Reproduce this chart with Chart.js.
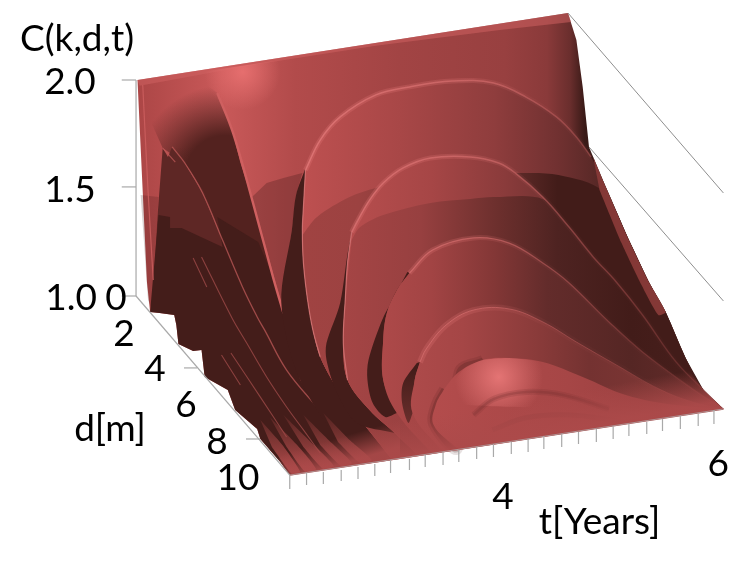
<!DOCTYPE html>
<html>
<head>
<meta charset="utf-8">
<title>C(k,d,t)</title>
<style>
html, body { margin: 0; padding: 0; background: #fff; }
#box { width: 753px; height: 564px; }
</style>
<script src="https://cdn.jsdelivr.net/npm/chart.js@4/dist/chart.umd.min.js"></script>
</head>
<body>
<div id="box"><canvas id="chart" width="753" height="564"></canvas></div>
<script>
// The surface is a 3D view, so every outline below is read off the picture as
// [apparent t, apparent C]: t along the front edge, C up the vertical axis.

// tick labels: text, apparent t, apparent C
var cLabels = [["2.0", -0.143, 1.935], ["1.5", -0.143, 1.435], ["1.0", -0.133, 0.935]];
var dLabels = [["0", 0.295, 0.935], ["2", 0.371, 0.769], ["4", 0.667, 0.606], ["6", 0.962, 0.44], ["8", 1.257, 0.269], ["10", 1.457, 0.102]];
var tLabels = [["4", 3.98, 0.014], ["6", 6.03, 0.167]];
var axisTitles = [["C(k,d,t)", -0.076, 2.134], ["d[m]", 0.238, 0.329], ["t[Years]", 4.9, -0.102]];

// axis frame
var cTicks = [2, 1.505, 1];
var dTicks = [[0.943, 1.067, 0.667], [1.533, 1.667, 0.338]];
var frontTickT = [1.95, 2.11, 2.27, 2.44, 2.6, 2.76, 2.91, 3.09, 3.24, 3.41, 3.56, 3.73, 3.89, 4.06, 4.22, 4.37, 4.54, 4.7, 4.87, 5.03, 5.18, 5.35, 5.5, 5.67, 5.84, 5.99];
var frontTickTop = [0.171, 0.181, 0.185, 0.194, 0.208, 0.222, 0.241, 0.245, 0.264, 0.278, 0.287, 0.301, 0.315, 0.324, 0.338, 0.352, 0.361, 0.37, 0.384, 0.398, 0.407, 0.417, 0.431, 0.444, 0.454, 0.472];
var frontTickEnd = [0.106, 0.125, 0.13, 0.144, 0.153, 0.167, 0.181, 0.194, 0.208, 0.218, 0.231, 0.245, 0.255, 0.269, 0.278, 0.292, 0.301, 0.315, 0.324, 0.338, 0.352, 0.361, 0.375, 0.384, 0.398, 0.407];
var backLineA = [[4.6, 2.31], [6.08, 1.477]];
var backLineB = [[4.8, 1.69], [6.08, 0.977]];
var cAxisLine = [[0.486, 2], [0.486, 1]];
var dAxisLine = [[0.486, 1], [1.95, 0.171]];
var frontEdge = [[1.95, 0.171], [6.08, 0.477]];

// surface silhouette
var topEdge = [[0.5, 2], [4.6, 2.31], [4.68, 2.185], [4.74, 1.968], [4.8, 1.69], [4.84, 1.644]];
var rightTail = [[4.96, 1.505], [5.18, 1.259], [5.37, 1.065], [5.53, 0.926], [5.72, 0.713], [5.89, 0.565], [6.08, 0.477]];
var frontCorner = [[1.95, 0.171]];
var stairs = [[1.86, 0.231], [1.67, 0.338], [1.64, 0.384], [1.43, 0.472], [1.36, 0.565], [1.14, 0.625], [1.11, 0.75], [1.03, 0.745], [0.89, 0.778], [0.87, 0.866], [0.85, 0.912], [0.71, 0.921], [0.62, 0.926]];
var leftEnd = [[0.59, 1.065]];

// back wall details
var topStrip = [[0.5, 2], [4.6, 2.31], [4.63, 2.269], [3.95, 2.232], [2.77, 2.158], [1.67, 2.075], [0.52, 1.973]];
var leftShade = [[0.53, 1.468], [0.7, 1.458], [0.64, 0.935], [0.6, 0.981]];
var leftStreak = [[0.55, 1.977], [0.6, 1.491], [0.65, 1.074]];
var topGlare = [[1.1, 2.037], [2.05, 2.106], [2.05, 1.861], [1.1, 1.861]];
var wallShade = [[1.59, 1.458], [1.73, 1.523], [1.89, 1.546], [2.07, 1.569], [2.01, 1.468], [1.97, 1.306], [1.87, 0.968]];

// first valley
var valley = [[0.74, 1.685], [0.62, 1.815], [0.76, 1.972], [1.1, 2], [1.26, 1.94], [1.41, 1.755], [1.48, 1.616], [1.6, 1.431], [1.2, 1.431], [0.95, 1.616]];
var valleyBody = [[0.83, 1.69], [1.44, 1.676], [1.6, 1.431], [1.79, 1.088], [1.9, 0.889], [1.64, 0.903], [1.5, 1.042], [1.31, 1.259], [1.12, 1.477], [0.95, 1.616]];
var wedge = [[0.74, 1.685], [0.79, 1.644], [0.83, 1.69], [0.95, 1.616], [1.12, 1.477], [1.31, 1.259], [1.5, 1.042], [1.64, 0.903], [0.64, 0.935], [0.69, 1.366]];
var lowerDark = [[0.7, 1.375], [0.81, 1.366], [0.81, 1.315], [0.92, 1.315], [1.31, 1.227], [1.26, 1.366], [1.65, 1.25], [1.79, 1.088], [1.9, 0.889], [2.05, 0.611], [2.52, 0.287], [2.95, 0.245]];
var ridgeLine = [[1.26, 1.94], [1.41, 1.755], [1.6, 1.431], [1.79, 1.088], [1.89, 0.921]];
var ridgeTail = [[1.89, 0.921], [1.98, 0.829], [2.14, 0.671], [2.33, 0.551], [2.59, 0.412]];
var apexLine = [[0.83, 1.69], [0.95, 1.616], [1.12, 1.477], [1.31, 1.259], [1.5, 1.042], [1.64, 0.903], [1.71, 0.843], [1.92, 0.657], [2.21, 0.486], [2.46, 0.347]];
var apexShort = [[0.74, 1.685], [0.86, 1.62]];
var streakA = [[1.03, 1.176], [1.16, 1.042]];
var streakB = [[1.11, 1.181], [1.4, 0.898], [1.54, 0.782], [1.73, 0.625], [1.92, 0.486], [2.08, 0.38], [2.24, 0.273]];
var streakC = [[1.3, 0.727], [1.48, 0.588]];
var streakD = [[1.39, 0.736], [1.67, 0.532], [1.92, 0.347]];

// nested folds, outer to inner: left edge, arch, shadow line
var flank1 = [[2.1, 1.593], [2.01, 1.468], [1.97, 1.306], [1.87, 0.968], [2.05, 0.611], [2.52, 0.287], [2.9, 0.25]];
var left1 = [[2.1, 1.583], [2.08, 1.412], [2.07, 1.306], [2.08, 1.153], [2.12, 0.981], [2.17, 0.843], [2.24, 0.718], [2.38, 0.588], [2.54, 0.472], [2.7, 0.38], [2.92, 0.245]];
var arch1 = [[2.1, 1.583], [2.24, 1.722], [2.43, 1.829], [2.77, 1.931], [3.09, 1.968], [3.5, 1.995], [3.89, 1.986], [4.2, 1.921], [4.49, 1.829], [4.68, 1.736], [4.82, 1.644]];
var shadow1 = [[2.07, 1.282], [2.21, 1.366], [2.52, 1.458], [2.77, 1.5], [3.19, 1.546], [4.13, 1.569], [4.51, 1.56], [4.93, 1.486]];
var edgeStrip = [[4.84, 1.644], [4.96, 1.505], [5.18, 1.259], [5.37, 1.065], [5.53, 0.926], [5.46, 0.912], [5.3, 1.051], [5.11, 1.245], [4.9, 1.491]];

var flank2 = [[2.62, 1.375], [2.52, 1.245], [2.43, 0.968], [2.3, 0.782], [2.3, 0.704], [2.4, 0.551], [2.59, 0.412], [2.95, 0.366]];
var left2 = [[2.54, 1.296], [2.5, 1.153], [2.48, 0.995], [2.46, 0.782], [2.5, 0.611], [2.71, 0.472], [2.95, 0.366], [3.17, 0.264]];
var arch2 = [[2.54, 1.296], [2.6, 1.352], [2.71, 1.444], [2.84, 1.523], [3.03, 1.593], [3.29, 1.639], [3.67, 1.644], [3.94, 1.616], [4.1, 1.569], [4.36, 1.458], [4.61, 1.319], [4.84, 1.181], [5.06, 1.065], [5.31, 0.912], [5.63, 0.694], [5.94, 0.542], [6.08, 0.477]];
var shadow2 = [[2.54, 1.259], [2.62, 1.319], [2.84, 1.375], [3.29, 1.431], [3.67, 1.449], [3.89, 1.458], [4.36, 1.449]];

var flank3 = [[3.07, 1.111], [2.93, 0.981], [2.83, 0.889], [2.7, 0.704], [2.69, 0.611], [2.74, 0.505], [2.86, 0.44], [2.97, 0.458]];
var left3 = [[3.09, 1.106], [2.96, 1.019], [2.87, 0.912], [2.84, 0.796], [2.84, 0.611], [2.97, 0.458], [3.3, 0.273]];
var arch3 = [[3.09, 1.106], [3.31, 1.213], [3.7, 1.269], [4.04, 1.245], [4.36, 1.153], [4.6, 1.065], [4.99, 0.88], [5.31, 0.741], [5.79, 0.569], [6.08, 0.477]];

var flank4 = [[3.16, 0.69], [3.03, 0.597], [3.02, 0.505], [3.08, 0.412], [3.12, 0.458]];
var left4 = [[3.19, 0.694], [3.14, 0.611], [3.12, 0.458], [3.4, 0.282]];
var arch4 = [[3.19, 0.694], [3.25, 0.755], [3.44, 0.866], [3.7, 0.935], [4.04, 0.94], [4.36, 0.88], [4.68, 0.787], [5.06, 0.681], [5.47, 0.569], [5.79, 0.509], [6.08, 0.477]];

var left5 = [[3.42, 0.569], [3.34, 0.495], [3.32, 0.403], [3.55, 0.292]];
var arch5 = [[3.42, 0.569], [3.56, 0.648], [3.79, 0.704], [4.04, 0.713], [4.36, 0.694], [4.74, 0.625], [5.15, 0.542], [5.63, 0.495], [6.08, 0.477]];
var glare5 = [[3.48, 0.588], [3.62, 0.667], [3.79, 0.704], [4.04, 0.713], [4.36, 0.694], [4.57, 0.648], [4.43, 0.495], [3.57, 0.495]];
var ripple1 = [[3.7, 0.449], [3.89, 0.523], [4.2, 0.556], [4.55, 0.542], [4.99, 0.477]];
var ripple2 = [[3.88, 0.38], [4.19, 0.435], [4.62, 0.449], [5.1, 0.42]];

// the lit skirt along the front edge, where the folds die out
var skirtLeft = [[1.84, 0.245], [1.97, 0.292], [3, 0.449], [3, 0.245], [1.95, 0.171]];
var skirtRight = [[3, 0.463], [4.33, 0.565], [5.72, 0.676], [5.89, 0.565], [6.08, 0.477], [3, 0.245]];

// stripes at the front left
var stripes = [
	[[1.67, 0.426], [1.88, 0.31], [2.05, 0.185], [1.97, 0.176], [1.78, 0.301]],
	[[1.76, 0.44], [2.02, 0.31], [2.2, 0.199], [2.1, 0.185], [1.92, 0.301]],
	[[1.89, 0.449], [2.18, 0.31], [2.37, 0.213], [2.27, 0.199], [2.08, 0.301]],
	[[2.08, 0.449], [2.35, 0.319], [2.54, 0.227], [2.44, 0.213], [2.24, 0.31]],
	[[2.27, 0.458], [2.52, 0.333], [2.73, 0.241], [2.62, 0.227], [2.41, 0.324]]
];

var DARK = "#441d1a";
var GREY = "#a9a9a9";
var tRange = [-85 / 105, 668 / 105];
var cRange = [-52 / 216, 512 / 216];

function toXY(points) {
	return points.map(function(p) { return {x: p[0], y: p[1]}; });
}

function rev(points) {
	return points.slice().reverse();
}

//doubled points keep the curve straight across the join
function sharp(a, b) {
	return a.concat([a[a.length - 1], b[0]], b);
}

//scales are not laid out on the first option pass
function ready(c) {
	var a = c.chart.chartArea;
	return a && a.width > 0 && isFinite(c.chart.scales.x.getPixelForValue(1));
}

//horizontal gradient, stops are [t, colour]
function hGrad(stops) {
	return function(c) {
		if (!ready(c)) return "transparent";
		var sx = c.chart.scales.x;
		var x0 = sx.getPixelForValue(stops[0][0]);
		var x1 = sx.getPixelForValue(stops[stops.length - 1][0]);
		var g = c.chart.ctx.createLinearGradient(x0, 0, x1, 0);
		stops.forEach(function(s) {
			g.addColorStop((sx.getPixelForValue(s[0]) - x0) / (x1 - x0), s[1]);
		});
		return g;
	};
}

//gradient between two [t, C] points
function dirGrad(a, b, c0, c1) {
	return function(c) {
		if (!ready(c)) return "transparent";
		var s = c.chart.scales;
		var g = c.chart.ctx.createLinearGradient(s.x.getPixelForValue(a[0]), s.y.getPixelForValue(a[1]), s.x.getPixelForValue(b[0]), s.y.getPixelForValue(b[1]));
		g.addColorStop(0, c0);
		g.addColorStop(1, c1);
		return g;
	};
}

function radGrad(center, radiusT, stops) {
	return function(c) {
		if (!ready(c)) return "transparent";
		var s = c.chart.scales;
		var px = s.x.getPixelForValue(center[0]);
		var py = s.y.getPixelForValue(center[1]);
		var r = s.x.getPixelForValue(center[0] + radiusT) - px;
		var g = c.chart.ctx.createRadialGradient(px, py, 0, px, py, r);
		stops.forEach(function(st) { g.addColorStop(st[0], st[1]); });
		return g;
	};
}

function shape(points, fillColor, tension) {
	return {
		type: "scatter", showLine: true, data: toXY(points), fill: "shape",
		backgroundColor: fillColor, borderWidth: 0, borderColor: "transparent",
		pointRadius: 0, tension: tension === undefined ? 0.3 : tension
	};
}

function stroke(points, color, width, tension) {
	return {
		type: "scatter", showLine: true, data: toXY(points), fill: false,
		borderColor: color, borderWidth: width, pointRadius: 0,
		tension: tension === undefined ? 0.38 : tension
	};
}

var archEdge = hGrad([[2, "rgba(226,120,120,0.85)"], [3.9, "rgba(214,110,110,0.6)"], [5, "rgba(190,90,90,0.4)"], [6.1, "rgba(170,75,75,0.15)"]]);
var archGlow = hGrad([[2, "rgba(230,120,120,0.28)"], [3.6, "rgba(230,120,120,0.22)"], [4.4, "rgba(200,100,100,0.06)"], [6.1, "rgba(200,100,100,0)"]]);

var wall = topEdge.concat(rightTail, frontCorner, stairs, leftEnd);
var layers = [
	shape(wall, hGrad([[0.5, "#ac4646"], [1.3, "#c95959"], [2, "#b24b4b"], [3, "#a24444"], [4, "#984040"], [4.4, "#8a3a3a"], [4.62, "#6a2e2d"], [4.76, "#391a17"], [6.1, "#391a17"]]), 0),
	shape(topStrip, "rgba(205,96,96,0.55)", 0),
	shape(leftShade, "rgba(60,20,20,0.2)", 0),
	shape(wallShade, "rgba(70,25,25,0.3)", 0),
	shape(valley, radGrad([1.333, 1.56], 0.857, [[0, "#53221f"], [0.44, "#53221f"], [1, "rgba(83,34,31,0)"]]), 0),
	shape(valleyBody, dirGrad([1.2, 1.69], [1.2, 1.46], "rgba(83,34,31,0)", "#53221f"), 0),
	shape(topGlare, radGrad([1.5, 2.037], 0.36, [[0, "rgba(232,112,112,0.95)"], [1, "rgba(232,112,112,0)"]]), 0),
	shape(wedge, "#5e2725", 0),
	shape(lowerDark.concat(frontCorner, stairs), DARK, 0),
	stroke(leftStreak, "rgba(206,96,96,0.8)", 1.2),
	stroke(ridgeLine, "#cf6060", 2.4),
	stroke(ridgeTail, "rgba(170,80,78,0.8)", 1.2),
	stroke(apexLine, "rgba(190,90,88,0.75)", 1.3),
	stroke(apexShort, "rgba(190,90,88,0.75)", 1.2),
	stroke(streakA, "rgba(170,80,78,0.7)", 1.1),
	stroke(streakB, "rgba(170,80,78,0.7)", 1.1),
	stroke(streakC, "rgba(170,80,78,0.7)", 1.1),
	stroke(streakD, "rgba(170,80,78,0.7)", 1.1),
	shape(flank1.concat(rev(left1)), DARK)
];

stripes.forEach(function(s) {
	layers.push(shape(s, dirGrad([2, 0.46], [2, 0.2], "rgba(165,70,68,0.15)", "#ab4949"), 0.2));
});

layers.push(
	// fold 1
	shape(rev(left1).concat(arch1, rightTail), hGrad([[2.08, "#bd5050"], [3, "#a84747"], [3.9, "#8f3d3d"], [4.5, "#713131"], [4.9, "#572826"], [6.1, "#572826"]]), 0.32),
	shape(sharp(shadow1.concat(rightTail.slice(1)), rev(left1.slice(3))), hGrad([[2.1, "#a04342"], [2.6, "#9c4241"], [4.1, "#5f2a28"], [4.5, "#421c19"], [6.1, "#421c19"]]), 0.32),
	shape(edgeStrip, "#843836", 0.2),
	stroke(arch1, archGlow, 5),
	stroke(arch1, archEdge, 1.5),
	stroke(left1.slice(0, 7), "rgba(222,128,128,0.7)", 1.2),

	// fold 2
	shape(flank2.concat(rev(left2.slice(0, 7))), DARK),
	shape(rev(left2).concat(arch2), hGrad([[2.46, "#b84e4e"], [3.3, "#a64646"], [4, "#8a3b3b"], [4.6, "#6a2f2e"], [6.1, "#6a2f2e"]]), 0.38),
	shape(sharp(shadow2.concat(arch2.slice(10)), rev(left2.slice(2))), hGrad([[2.46, "#a54545"], [3.2, "#974040"], [3.9, "#6e302e"], [4.5, "#4e2321"], [5.2, "#421c19"], [6.1, "#4a201d"]]), 0.32),
	stroke(arch2, archGlow, 5),
	stroke(arch2, archEdge, 1.5),
	stroke(left2.slice(0, 5), "rgba(222,128,128,0.7)", 1.2),

	// fold 3
	shape(flank3.concat(rev(left3.slice(0, 6))), DARK),
	shape(rev(left3).concat(arch3), hGrad([[2.84, "#ad4949"], [3.3, "#a24444"], [3.9, "#833736"], [4.4, "#632c2b"], [5.2, "#552624"], [6.1, "#6a2e2c"]]), 0.38),
	stroke(arch3, archGlow, 5),
	stroke(arch3, archEdge, 1.3),

	// fold 4
	shape(flank4.concat(rev(left4.slice(0, 3))), dirGrad([3.1, 0.66], [3.1, 0.41], DARK, "#6a2e2c")),
	shape(rev(left4).concat(arch4), hGrad([[3.12, "#ad4a4a"], [3.6, "#a54646"], [4.3, "#8a3b3a"], [4.8, "#743231"], [5.4, "#7c3634"], [6.1, "#8a3b39"]]), 0.38),
	stroke(arch4, archGlow, 6),
	stroke(arch4, archEdge, 1),

	// fold 5
	stroke(left5.concat(arch5.slice(1, 3)), "rgba(66,26,24,0.13)", 10),
	stroke(left5.concat(arch5.slice(1, 3)), "rgba(66,26,24,0.22)", 5),
	shape(rev(left5).concat(arch5), hGrad([[3.32, "#b34c4c"], [4.6, "#a64646"], [5.5, "#993f3f"], [6.1, "#a84747"]]), 0.38),
	shape(glare5, radGrad([3.94, 0.625], 0.42, [[0, "rgba(228,116,116,1)"], [1, "rgba(228,116,116,0)"]]), 0.2),
	stroke(ripple1, "rgba(110,45,45,0.18)", 6),
	stroke(ripple1, "rgba(110,45,45,0.25)", 2.5),
	stroke(ripple2, "rgba(110,45,45,0.15)", 5),

	// front skirt
	shape(skirtLeft, dirGrad([2.43, 0.347], [2.5, 0.231], "rgba(172,74,74,0)", "rgba(172,74,74,0.92)"), 0),
	shape(skirtRight, dirGrad([5.1, 0.597], [5.16, 0.435], "rgba(172,74,74,0)", "rgba(172,74,74,0.92)"), 0),
	stroke(frontEdge, "#ab4a4a", 1.6, 0),
	stroke(frontEdge, "rgba(176,168,168,0.75)", 1, 0),

	// frame
	stroke(backLineA, "#8e8e8e", 1, 0),
	stroke(backLineB, "#8e8e8e", 1, 0),
	stroke(cAxisLine, GREY, 1.2, 0),
	stroke(dAxisLine, GREY, 1.2, 0)
);

cTicks.forEach(function(v) {
	layers.push(stroke([[0.35, v], [0.486, v]], GREY, 1.2, 0));
});
dTicks.forEach(function(d) {
	layers.push(stroke([[d[0], d[2]], [d[1], d[2]]], GREY, 1.2, 0));
});
frontTickT.forEach(function(t, i) {
	layers.push(stroke([[t, frontTickTop[i]], [t, frontTickEnd[i]]], GREY, 1.2, 0));
});

var axisText = {
	id: "axisText",
	afterDatasetsDraw: function(chart) {
		var ctx = chart.ctx;
		ctx.save();
		ctx.fillStyle = "#000";
		ctx.font = "37px Lato";
		ctx.textAlign = "center";
		ctx.textBaseline = "alphabetic";
		cLabels.concat(dLabels, tLabels, axisTitles).forEach(function(l) {
			ctx.fillText(l[0], chart.scales.x.getPixelForValue(l[1]), chart.scales.y.getPixelForValue(l[2]));
		});
		ctx.restore();
	}
};

new Chart(document.getElementById("chart"), {
	type: "scatter",
	data: {datasets: layers.reverse()},
	options: {
		responsive: false,
		animation: false,
		events: [],
		layout: {padding: 0},
		plugins: {legend: {display: false}, tooltip: {enabled: false}},
		scales: {
			x: {type: "linear", display: false, min: tRange[0], max: tRange[1]},
			y: {type: "linear", display: false, min: cRange[0], max: cRange[1]}
		}
	},
	plugins: [axisText]
});
</script>
</body>
</html>
